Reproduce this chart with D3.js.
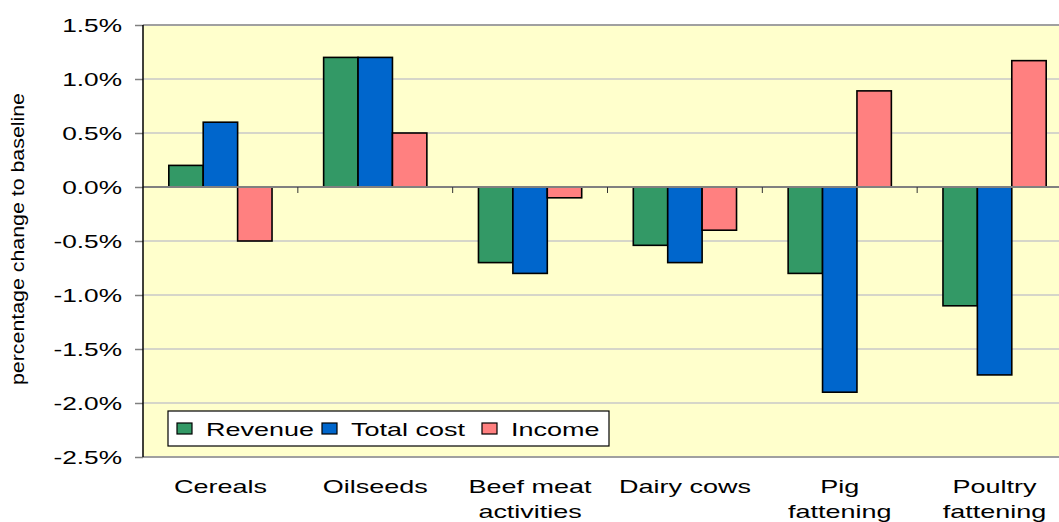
<!DOCTYPE html>
<html>
<head>
<meta charset="utf-8">
<script src="https://cdn.jsdelivr.net/npm/d3@7"></script>
<style>
  html, body { margin: 0; padding: 0; background: #fff; }
  svg { display: block; }
  text { font-family: "Liberation Sans", Arial, sans-serif; fill: #000; }
</style>
</head>
<body>
<svg id="chart" width="1059" height="522"></svg>
<script>
const categories = [["Cereals"], ["Oilseeds"], ["Beef meat", "activities"], ["Dairy cows"], ["Pig", "fattening"], ["Poultry", "fattening"]];
const seriesNames = ["Revenue", "Total cost", "Income"];
const revenue   = [0.2, 1.2, -0.7, -0.54, -0.8, -1.1];
const totalCost = [0.6, 1.2, -0.8, -0.7, -1.9, -1.74];
const income    = [-0.5, 0.5, -0.1, -0.4, 0.89, 1.17];
const yTicks = [1.5, 1.0, 0.5, 0.0, -0.5, -1.0, -1.5, -2.0, -2.5];
const yTitle = "percentage change to baseline";

const colors = ["#339966", "#0066CC", "#FF8080"];
const seriesValues = [revenue, totalCost, income];

const svg = d3.select("#chart");
const pLeft = 143, pRight = 1072, pTop = 25, pBottom = 457;
const SX = 1.42;
const fmt = d => d.toFixed(1) + "%";

const catIdx = categories.map((d, i) => i);
const x0 = d3.scaleBand().domain(catIdx).range([pLeft, pRight]).paddingInner(0).paddingOuter(0);
const bw = x0.bandwidth();
const barW = bw / 4.5;
const x1 = d3.scaleBand().domain(seriesNames).range([0.75 * barW, 3.75 * barW]);
const y = d3.scaleLinear().domain([-2.5, 1.5]).range([pBottom, pTop]);

// plot background
svg.append("rect").attr("x", pLeft).attr("y", pTop).attr("width", pRight - pLeft).attr("height", pBottom - pTop)
  .attr("fill", "#FFFFCC");

// gridlines
svg.append("g").selectAll("line").data(yTicks).join("line")
  .attr("x1", pLeft).attr("x2", pRight)
  .attr("y1", d => y(d)).attr("y2", d => y(d))
  .attr("stroke", d => (d === 1.5 || d === -2.5) ? "#a0a0a0" : "#c8c8c8")
  .attr("stroke-width", d => (d === 1.5 || d === -2.5) ? 2 : 1.5);

// bars
const barData = [];
catIdx.forEach(ci => seriesNames.forEach((s, si) => barData.push({ci, s, si, v: seriesValues[si][ci]})));
svg.append("g").selectAll("rect").data(barData).join("rect")
  .attr("x", d => x0(d.ci) + x1(d.s))
  .attr("width", x1.bandwidth())
  .attr("y", d => y(Math.max(0, d.v)))
  .attr("height", d => Math.abs(y(d.v) - y(0)))
  .attr("fill", d => colors[d.si])
  .attr("stroke", "#000").attr("stroke-width", 1.6);

// zero line
svg.append("line").attr("x1", pLeft).attr("x2", pRight).attr("y1", y(0)).attr("y2", y(0))
  .attr("stroke", "#808080").attr("stroke-width", 2);
// x ticks on zero line at category boundaries
svg.append("g").selectAll("line").data(catIdx.slice(1)).join("line")
  .attr("x1", d => x0(d)).attr("x2", d => x0(d))
  .attr("y1", y(0)).attr("y2", y(0) + 6)
  .attr("stroke", "#333").attr("stroke-width", 1);

// y axis
const yAxis = svg.append("g").attr("transform", `translate(${pLeft},0)`)
  .call(d3.axisLeft(y).tickValues(yTicks).tickSize(8).tickFormat(fmt));
yAxis.select(".domain").remove();
yAxis.selectAll(".tick line").attr("stroke", "#808080").attr("stroke-width", 1.5);
yAxis.selectAll(".tick text").remove();
svg.append("line").attr("x1", pLeft).attr("x2", pLeft).attr("y1", pTop).attr("y2", pBottom)
  .attr("stroke", "#000").attr("stroke-width", 1.5);

// y tick labels (stretched)
svg.append("g").selectAll("text").data(yTicks).join("text")
  .attr("transform", d => `translate(122,${y(d) + 7}) scale(${SX},1)`)
  .attr("text-anchor", "end").attr("font-size", 18.5)
  .text(fmt);

// y title
svg.append("text")
  .attr("transform", `translate(24,${(pTop + pBottom) / 2 - 2}) rotate(-90)`)
  .attr("text-anchor", "middle").attr("font-size", 18)
  .attr("textLength", 292).attr("lengthAdjust", "spacingAndGlyphs")
  .text(yTitle);

// category labels
const catG = svg.append("g").selectAll("g").data(catIdx).join("g");
catG.each(function(ci) {
  const g = d3.select(this);
  categories[ci].forEach((line, li) => {
    g.append("text")
      .attr("transform", `translate(${x0(ci) + bw / 2},${493 + li * 25}) scale(${SX},1)`)
      .attr("text-anchor", "middle").attr("font-size", 19)
      .text(line);
  });
});

// legend
const lg = svg.append("g");
lg.append("rect").attr("x", 168).attr("y", 411).attr("width", 441).attr("height", 35)
  .attr("fill", "#fff").attr("stroke", "#000").attr("stroke-width", 1.2);
const legendSwatchX = [177, 322, 482];
seriesNames.forEach((s, i) => {
  lg.append("rect").attr("x", legendSwatchX[i]).attr("y", 423).attr("width", 15).attr("height", 11)
    .attr("fill", colors[i]).attr("stroke", "#000").attr("stroke-width", 1.2);
  lg.append("text")
    .attr("transform", `translate(${legendSwatchX[i] + 29},436) scale(${SX},1)`)
    .attr("font-size", 19).text(s);
});
</script>
</body>
</html>
